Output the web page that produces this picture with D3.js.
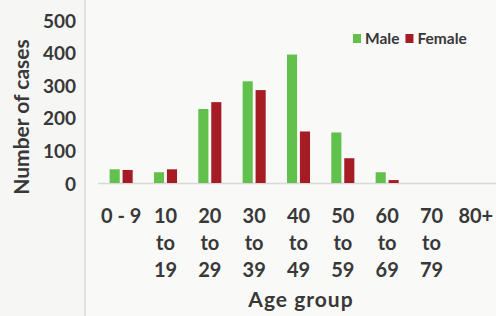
<!DOCTYPE html>
<html>
<head>
<meta charset="utf-8">
<script src="https://cdn.jsdelivr.net/npm/d3@7"></script>
<style>
  body { margin: 0; background: #f6f6f4; }
  svg { display: block; font-family: Lato, "Open Sans", sans-serif; }
</style>
</head>
<body>
<div class="canva"></div>
<script>
const ageGroups = ["0 - 9", "10 to 19", "20 to 29", "30 to 39", "40 to 49", "50 to 59", "60 to 69", "70 to 79", "80+"]
const male = [42, 33, 227, 312, 394, 155, 33, 0, 0]
const female = [40, 42, 248, 285, 158, 76, 9, 0, 0]
const series = ["Male", "Female"]
const yTicks = [0, 100, 200, 300, 400, 500]

const colors = { Male: "#62c04c", Female: "#a51c24" }
const textColor = "#383838"

const width = 496, height = 316

const data = ageGroups.map((g, i) => ({ group: g, Male: male[i], Female: female[i] }))

const svg = d3.select(".canva").append("svg")
    .attr("width", width)
    .attr("height", height)

// paper background + faint fold line
svg.append("rect").attr("width", width).attr("height", height).attr("fill", "#f6f6f4")
svg.append("rect").attr("x", 86).attr("width", width - 86).attr("height", height).attr("fill", "#f9f9f8")
svg.append("line")
    .attr("x1", 85).attr("x2", 85).attr("y1", 0).attr("y2", height)
    .attr("stroke", "#e2e2df").attr("stroke-width", 2)

const x0 = d3.scaleBand()
    .domain(ageGroups)
    .range([99, 498])
    .paddingInner(0.48)
    .paddingOuter(0.24)

const x1 = d3.scaleBand()
    .domain(series)
    .range([0, x0.bandwidth()])
    .paddingInner(0.22)

const y = d3.scaleLinear()
    .domain([0, 500])
    .range([183, 20])

// y axis labels
const yAxis = d3.axisLeft(y).tickValues(yTicks).tickSize(0).tickPadding(0)
const yg = svg.append("g").attr("transform", "translate(76,1)").call(yAxis)
yg.select(".domain").remove()
yg.selectAll("text")
    .attr("font-size", 19)
    .attr("font-weight", "bold")
    .attr("fill", textColor)
    .attr("font-family", "Lato, sans-serif")

// baseline
svg.append("line")
    .attr("x1", 98).attr("x2", width)
    .attr("y1", y(0) + 0.5).attr("y2", y(0) + 0.5)
    .attr("stroke", "#d8d8d8").attr("stroke-width", 1.5)

// bars
const groups = svg.selectAll("g.grp")
    .data(data)
    .enter().append("g")
    .attr("class", "grp")
    .attr("transform", d => `translate(${x0(d.group)},0)`)

groups.selectAll("rect")
    .data(d => series.map(s => ({ key: s, value: d[s] })))
    .enter().append("rect")
    .attr("x", d => x1(d.key))
    .attr("y", d => y(d.value))
    .attr("width", x1.bandwidth())
    .attr("height", d => y(0) - y(d.value))
    .attr("fill", d => colors[d.key])

// x axis labels (three lines)
const xl = svg.selectAll("text.xlab")
    .data(ageGroups)
    .enter().append("text")
    .attr("class", "xlab")
    .attr("text-anchor", "middle")
    .attr("font-size", 20)
    .attr("font-weight", "bold")
    .attr("fill", textColor)

xl.selectAll("tspan")
    .data(d => d.includes(" to ") ? [d.split(" to ")[0], "to", d.split(" to ")[1]] : [d])
    .enter().append("tspan")
    .attr("x", function () { const g = d3.select(this.parentNode).datum(); return x0(g) + x0.bandwidth() / 2 })
    .attr("y", (d, i) => 223 + i * 27)
    .text(d => d)

// axis titles
svg.append("text")
    .attr("x", 301).attr("y", 307)
    .attr("text-anchor", "middle")
    .attr("font-size", 21)
    .attr("font-weight", "bold")
    .attr("letter-spacing", 1)
    .attr("fill", textColor)
    .text("Age group")

svg.append("text")
    .attr("transform", "translate(29,117) rotate(-90)")
    .attr("text-anchor", "middle")
    .attr("font-size", 21)
    .attr("font-weight", "bold")
    .attr("fill", textColor)
    .text("Number of cases")

// legend
const legend = svg.append("g").attr("transform", "translate(353,33)")
let lx = 0
series.forEach(s => {
    legend.append("rect").attr("x", lx).attr("y", 1).attr("width", 8).attr("height", 9).attr("fill", colors[s])
    const t = legend.append("text")
        .attr("x", lx + 12).attr("y", 11)
        .attr("font-size", 15.5)
        .attr("font-weight", "bold")
        .attr("fill", textColor)
        .text(s)
    lx += 12 + t.node().getComputedTextLength() + 6
})
</script>
</body>
</html>
